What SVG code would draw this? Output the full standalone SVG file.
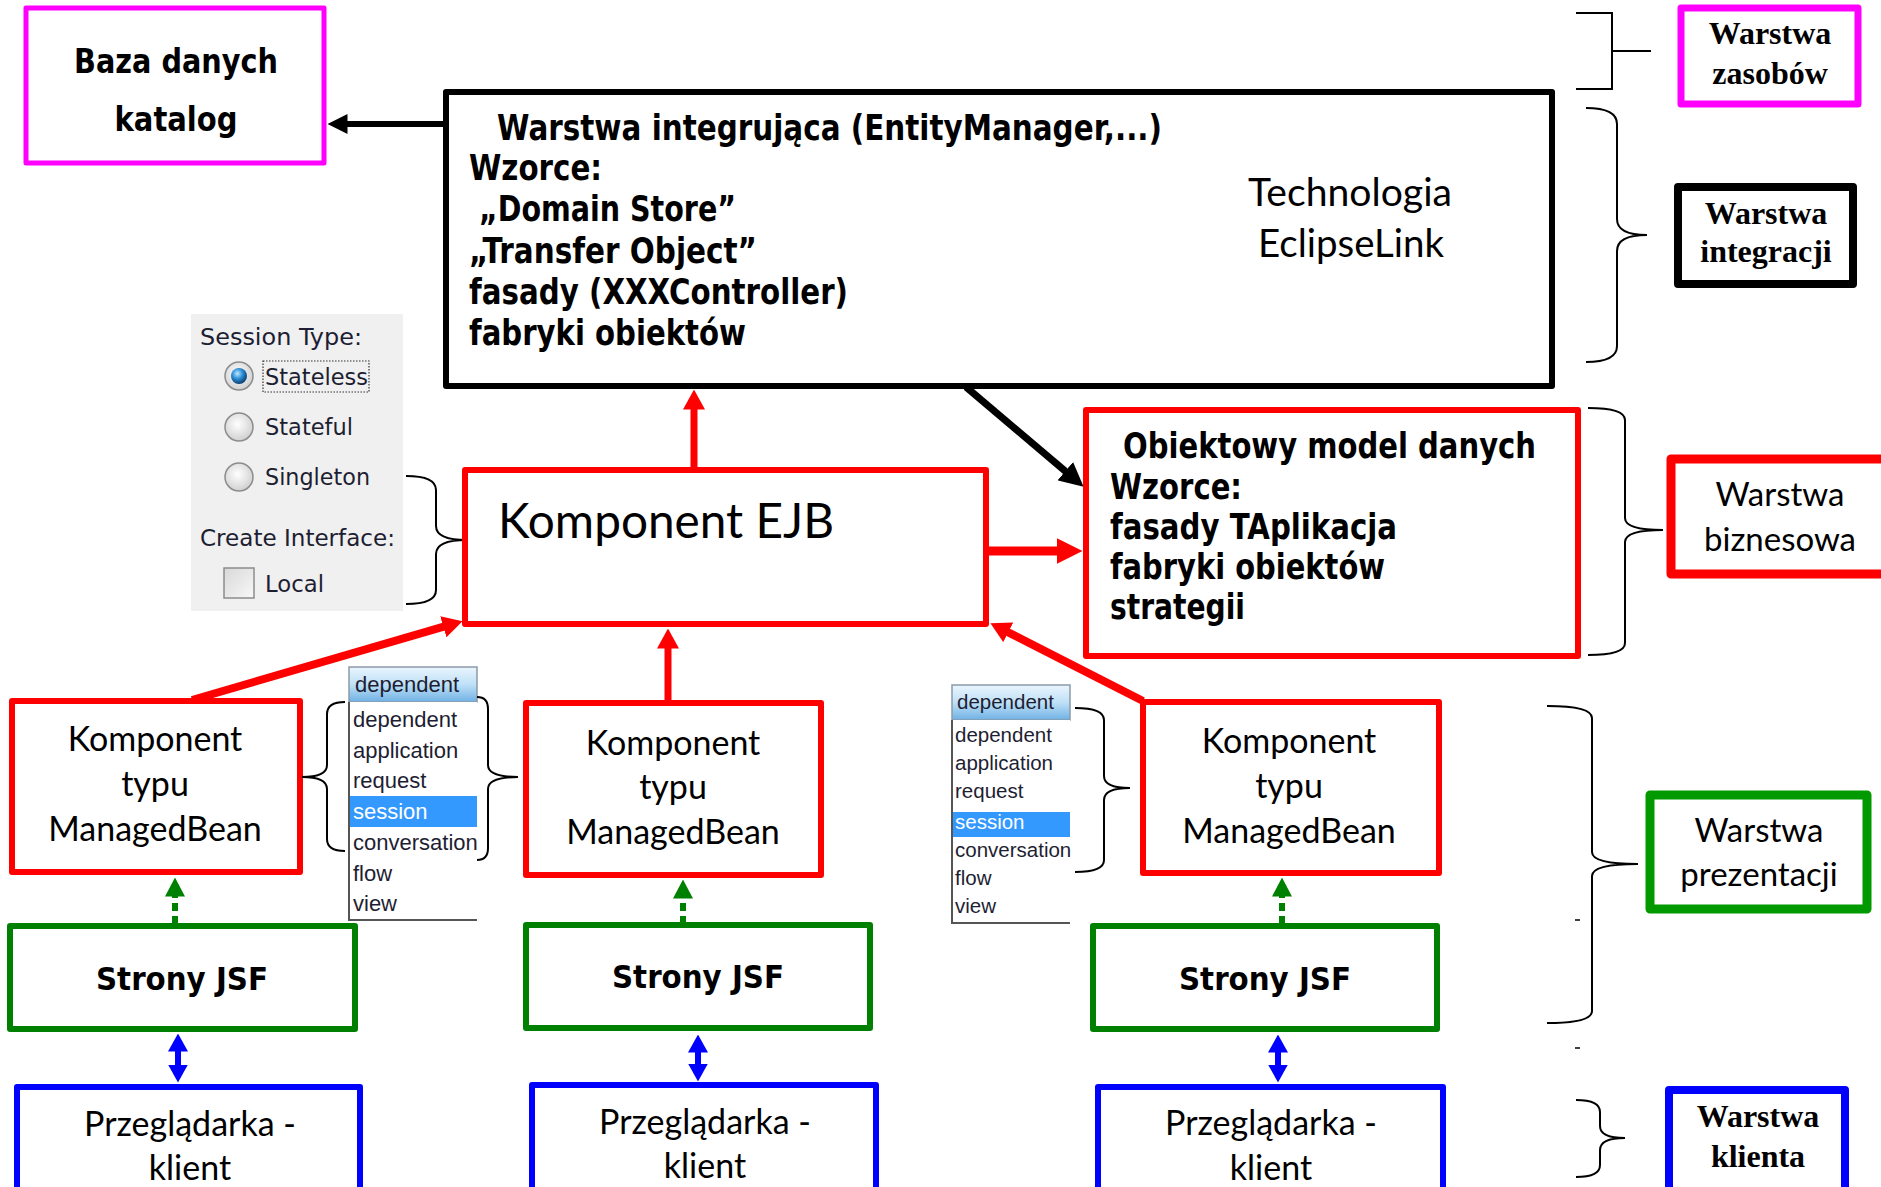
<svg xmlns="http://www.w3.org/2000/svg" width="1881" height="1187" viewBox="0 0 1881 1187">
<defs>
<style>
.box{fill:#fff;stroke-linejoin:round}
.bold{font-family:"DejaVu Sans",Verdana,sans-serif;font-weight:bold;fill:#000}
.cal{font-family:Lato,"Liberation Sans",sans-serif;fill:#000}
.serif{font-family:"Liberation Serif","Times New Roman",serif;font-weight:bold;fill:#000}
.ui{font-family:"DejaVu Sans",Tahoma,sans-serif;fill:#1e1e32}
.li{font-family:"Liberation Sans",Arial,sans-serif;font-size:22px;fill:#1e1e32}
.li2{font-family:"Liberation Sans",Arial,sans-serif;font-size:20.5px;fill:#1e1e32}
.brace{fill:none;stroke:#000;stroke-width:2}
.c{text-anchor:middle}
</style>
<marker id="ahBlack" viewBox="0 0 20 20" refX="0.5" refY="10" markerWidth="20" markerHeight="20" markerUnits="userSpaceOnUse" orient="auto"><path d="M0,0 L20,10 L0,20 z" fill="#000"/></marker>
<marker id="ahBlackL" viewBox="0 0 24 24" refX="0.5" refY="12" markerWidth="24" markerHeight="24" markerUnits="userSpaceOnUse" orient="auto"><path d="M0,0 L24,12 L0,24 z" fill="#000"/></marker>
<marker id="ahRed" viewBox="0 0 20 22" refX="0.5" refY="11" markerWidth="20" markerHeight="22" markerUnits="userSpaceOnUse" orient="auto"><path d="M0,0 L20,11 L0,22 z" fill="#f00"/></marker>
<marker id="ahRedL" viewBox="0 0 26 26" refX="0.5" refY="13" markerWidth="26" markerHeight="26" markerUnits="userSpaceOnUse" orient="auto"><path d="M0,0 L26,13 L0,26 z" fill="#f00"/></marker>
<marker id="ahGreen" viewBox="0 0 19 20" refX="0.5" refY="10" markerWidth="19" markerHeight="20" markerUnits="userSpaceOnUse" orient="auto"><path d="M0,0 L19,10 L0,20 z" fill="#008000"/></marker>
<marker id="ahBlue" viewBox="0 0 18 20" refX="0.5" refY="10" markerWidth="18" markerHeight="20" markerUnits="userSpaceOnUse" orient="auto-start-reverse"><path d="M0,0 L18,10 L0,20 z" fill="#00f"/></marker>
<linearGradient id="hdr" x1="0" y1="0" x2="0" y2="1"><stop offset="0" stop-color="#eaf5fd"/><stop offset="0.5" stop-color="#bfe0f7"/><stop offset="1" stop-color="#6fb1e4"/></linearGradient>
<radialGradient id="radio" cx="0.45" cy="0.4" r="0.6"><stop offset="0" stop-color="#ffffff"/><stop offset="1" stop-color="#d0d0d0"/></radialGradient>
<radialGradient id="radioSel" cx="0.4" cy="0.35" r="0.65"><stop offset="0" stop-color="#bfe8ff"/><stop offset="0.5" stop-color="#2d8fd6"/><stop offset="1" stop-color="#0b3f73"/></radialGradient>
<linearGradient id="chk" x1="0" y1="0" x2="1" y2="1"><stop offset="0" stop-color="#d8d8d8"/><stop offset="1" stop-color="#f8f8f8"/></linearGradient>
</defs>

<g id="connectors">
<line x1="446" y1="124" x2="347" y2="124" stroke="#000" stroke-width="6" marker-end="url(#ahBlack)"/>
<line x1="694" y1="467" x2="694" y2="409" stroke="#f00" stroke-width="7" marker-end="url(#ahRed)"/>
<line x1="989" y1="551" x2="1057" y2="551" stroke="#f00" stroke-width="9" marker-end="url(#ahRedL)"/>
<line x1="966" y1="387" x2="1065.7" y2="471.5" stroke="#000" stroke-width="7" marker-end="url(#ahBlackL)"/>
<line x1="192" y1="700" x2="443.8" y2="626.6" stroke="#f00" stroke-width="8" marker-end="url(#ahRed)"/>
<line x1="668" y1="702" x2="668" y2="648" stroke="#f00" stroke-width="7" marker-end="url(#ahRed)"/>
<line x1="1143" y1="701" x2="1007.8" y2="632.1" stroke="#f00" stroke-width="8" marker-end="url(#ahRed)"/>
<line x1="175" y1="924" x2="175" y2="896" stroke="#008000" stroke-width="6" stroke-dasharray="8 5" marker-end="url(#ahGreen)"/>
<line x1="683" y1="924" x2="683" y2="898" stroke="#008000" stroke-width="6" stroke-dasharray="8 5" marker-end="url(#ahGreen)"/>
<line x1="1282" y1="924" x2="1282" y2="896" stroke="#008000" stroke-width="6" stroke-dasharray="8 5" marker-end="url(#ahGreen)"/>
<line x1="178" y1="1051" x2="178" y2="1065" stroke="#00f" stroke-width="6" marker-start="url(#ahBlue)" marker-end="url(#ahBlue)"/>
<line x1="698" y1="1052" x2="698" y2="1064" stroke="#00f" stroke-width="6" marker-start="url(#ahBlue)" marker-end="url(#ahBlue)"/>
<line x1="1278" y1="1052" x2="1278" y2="1065" stroke="#00f" stroke-width="6" marker-start="url(#ahBlue)" marker-end="url(#ahBlue)"/>
</g>

<g id="baza">
<rect class="box" x="26" y="8" width="298" height="155" stroke="#f0f" stroke-width="5"/>
<text class="bold c" x="176" y="73" font-size="34" textLength="204" lengthAdjust="spacingAndGlyphs">Baza danych</text>
<text class="bold c" x="176" y="131" font-size="34" textLength="123" lengthAdjust="spacingAndGlyphs">katalog</text>
</g>

<g id="integracja">
<rect class="box" x="446" y="92" width="1106" height="294" stroke="#000" stroke-width="6"/>
<text class="bold" x="497" y="140" font-size="35" textLength="665" lengthAdjust="spacingAndGlyphs">Warstwa integrująca (EntityManager,...)</text>
<text class="bold" x="469" y="180" font-size="35" textLength="133" lengthAdjust="spacingAndGlyphs">Wzorce:</text>
<text class="bold" x="479" y="221" font-size="35" textLength="257" lengthAdjust="spacingAndGlyphs">„Domain Store”</text>
<text class="bold" x="469" y="263" font-size="35" textLength="288" lengthAdjust="spacingAndGlyphs">„Transfer Object”</text>
<text class="bold" x="469" y="304" font-size="35" textLength="379" lengthAdjust="spacingAndGlyphs">fasady (XXXController)</text>
<text class="bold" x="469" y="345" font-size="35" textLength="277" lengthAdjust="spacingAndGlyphs">fabryki obiektów</text>
<text class="cal c" x="1350" y="206" font-size="38" textLength="204" lengthAdjust="spacingAndGlyphs">Technologia</text>
<text class="cal c" x="1351" y="257" font-size="38" textLength="186" lengthAdjust="spacingAndGlyphs">EclipseLink</text>
</g>

<g id="session-panel">
<rect x="191" y="314" width="212" height="297" fill="#f0f0f0"/>
<text class="ui" x="200" y="345" font-size="23" textLength="162" lengthAdjust="spacingAndGlyphs">Session Type:</text>
<circle cx="239" cy="376" r="14" fill="url(#radio)" stroke="#8c8c8c" stroke-width="1.5"/>
<circle cx="239" cy="376" r="8" fill="url(#radioSel)"/>
<rect x="263" y="361" width="106" height="31" fill="none" stroke="#333" stroke-width="1.2" stroke-dasharray="1.5 1.5"/>
<text class="ui" x="265" y="385" font-size="23" textLength="103" lengthAdjust="spacingAndGlyphs">Stateless</text>
<circle cx="239" cy="427" r="14" fill="url(#radio)" stroke="#8c8c8c" stroke-width="1.5"/>
<text class="ui" x="265" y="435" font-size="23" textLength="88" lengthAdjust="spacingAndGlyphs">Stateful</text>
<circle cx="239" cy="477" r="14" fill="url(#radio)" stroke="#8c8c8c" stroke-width="1.5"/>
<text class="ui" x="265" y="485" font-size="23" textLength="105" lengthAdjust="spacingAndGlyphs">Singleton</text>
<text class="ui" x="200" y="546" font-size="23" textLength="195" lengthAdjust="spacingAndGlyphs">Create Interface:</text>
<rect x="224" y="568" width="30" height="30" fill="url(#chk)" stroke="#8c8c8c" stroke-width="1.5"/>
<text class="ui" x="265" y="592" font-size="23" textLength="59" lengthAdjust="spacingAndGlyphs">Local</text>
<path class="brace" d="M406,476 Q436,476 436,490 V526 Q436,540 467,540 Q436,540 436,554 V590 Q436,604 406,604"/>
</g>

<g id="ejb">
<rect class="box" x="465" y="470" width="521" height="154" stroke="#f00" stroke-width="6"/>
<text class="cal" x="498" y="538" font-size="48" textLength="336" lengthAdjust="spacingAndGlyphs">Komponent EJB</text>
</g>

<g id="obiektowy">
<rect class="box" x="1086" y="410" width="492" height="246" stroke="#f00" stroke-width="6"/>
<text class="bold" x="1123" y="458" font-size="35" textLength="413" lengthAdjust="spacingAndGlyphs">Obiektowy model danych</text>
<text class="bold" x="1110" y="499" font-size="35" textLength="132" lengthAdjust="spacingAndGlyphs">Wzorce:</text>
<text class="bold" x="1110" y="539" font-size="35" textLength="287" lengthAdjust="spacingAndGlyphs">fasady TAplikacja</text>
<text class="bold" x="1110" y="579" font-size="35" textLength="275" lengthAdjust="spacingAndGlyphs">fabryki obiektów</text>
<text class="bold" x="1110" y="619" font-size="35" textLength="135" lengthAdjust="spacingAndGlyphs">strategii</text>
</g>

<g id="managedbean-1">
<rect class="box" x="12" y="701" width="288" height="171" stroke="#f00" stroke-width="6"/>
<text class="cal c" x="155" y="751" font-size="34">Komponent</text>
<text class="cal c" x="155" y="796" font-size="34">typu</text>
<text class="cal c" x="155" y="841" font-size="34">ManagedBean</text>
</g>
<g id="managedbean-2">
<rect class="box" x="526" y="703" width="295" height="172" stroke="#f00" stroke-width="6"/>
<text class="cal c" x="673" y="755" font-size="34">Komponent</text>
<text class="cal c" x="673" y="799" font-size="34">typu</text>
<text class="cal c" x="673" y="844" font-size="34">ManagedBean</text>
</g>
<g id="managedbean-3">
<rect class="box" x="1143" y="702" width="296" height="171" stroke="#f00" stroke-width="6"/>
<text class="cal c" x="1289" y="753" font-size="34">Komponent</text>
<text class="cal c" x="1289" y="798" font-size="34">typu</text>
<text class="cal c" x="1289" y="843" font-size="34">ManagedBean</text>
</g>

<g id="scope-list-1">
<rect x="349" y="667" width="128" height="35" fill="url(#hdr)" stroke="#8a9aa8" stroke-width="1.5"/>
<text class="li" x="355" y="692">dependent</text>
<rect x="349" y="702" width="128" height="218" fill="#fff"/>
<rect x="349" y="796" width="128" height="31" fill="#3399ff"/>
<path d="M349,702 V920 H477" fill="none" stroke="#555" stroke-width="2"/>
<text class="li" x="353" y="727">dependent</text>
<text class="li" x="353" y="758">application</text>
<text class="li" x="353" y="788">request</text>
<text class="li" x="353" y="819" style="fill:#fff">session</text>
<text class="li" x="353" y="850">conversation</text>
<text class="li" x="353" y="881">flow</text>
<text class="li" x="353" y="911">view</text>
<path class="brace" d="M345,702 Q327,702 327,714 V765 Q327,777 302,777 Q327,777 327,789 V839 Q327,851 345,851"/>
<path class="brace" d="M477,697 Q488,697 488,709 V765 Q488,777 518,777 Q488,777 488,789 V848 Q488,860 477,860"/>
</g>

<g id="scope-list-2">
<rect x="952" y="685" width="118" height="35" fill="url(#hdr)" stroke="#8a9aa8" stroke-width="1.5"/>
<text class="li2" x="957" y="709">dependent</text>
<rect x="952" y="720" width="118" height="203" fill="#fff"/>
<rect x="952" y="812" width="118" height="25" fill="#3399ff"/>
<path d="M952,720 V923 H1070" fill="none" stroke="#555" stroke-width="2"/>
<text class="li2" x="955" y="742">dependent</text>
<text class="li2" x="955" y="770">application</text>
<text class="li2" x="955" y="798">request</text>
<text class="li2" x="955" y="829" style="fill:#fff">session</text>
<text class="li2" x="955" y="857">conversation</text>
<text class="li2" x="955" y="885">flow</text>
<text class="li2" x="955" y="913">view</text>
<path class="brace" d="M1075,708 Q1104,708 1104,720 V776 Q1104,788 1130,788 Q1104,788 1104,800 V860 Q1104,872 1075,872"/>
</g>

<g id="jsf-1">
<rect class="box" x="10" y="926" width="345" height="103" stroke="#008000" stroke-width="6"/>
<text class="bold c" x="182" y="990" font-size="32" textLength="172" lengthAdjust="spacingAndGlyphs">Strony JSF</text>
</g>
<g id="jsf-2">
<rect class="box" x="526" y="925" width="344" height="103" stroke="#008000" stroke-width="6"/>
<text class="bold c" x="698" y="988" font-size="32" textLength="172" lengthAdjust="spacingAndGlyphs">Strony JSF</text>
</g>
<g id="jsf-3">
<rect class="box" x="1093" y="926" width="344" height="103" stroke="#008000" stroke-width="6"/>
<text class="bold c" x="1265" y="990" font-size="32" textLength="172" lengthAdjust="spacingAndGlyphs">Strony JSF</text>
</g>

<g id="przegladarka-1">
<rect class="box" x="17" y="1087" width="343" height="115" stroke="#00f" stroke-width="6"/>
<text class="cal c" x="190" y="1136" font-size="34">Przeglądarka -</text>
<text class="cal c" x="190" y="1180" font-size="34">klient</text>
</g>
<g id="przegladarka-2">
<rect class="box" x="532" y="1085" width="344" height="117" stroke="#00f" stroke-width="6"/>
<text class="cal c" x="705" y="1134" font-size="34">Przeglądarka -</text>
<text class="cal c" x="705" y="1178" font-size="34">klient</text>
</g>
<g id="przegladarka-3">
<rect class="box" x="1098" y="1087" width="345" height="115" stroke="#00f" stroke-width="6"/>
<text class="cal c" x="1271" y="1135" font-size="34">Przeglądarka -</text>
<text class="cal c" x="1271" y="1180" font-size="34">klient</text>
</g>

<g id="layer-braces">
<path class="brace" d="M1576,13 H1612 V89 H1576 M1612,51 H1651"/>
<path class="brace" d="M1586,108 Q1617,108 1617,124 V219 Q1617,235 1647,235 Q1617,235 1617,251 V346 Q1617,362 1586,362"/>
<path class="brace" d="M1588,408 Q1625,408 1625,420 V518 Q1625,530 1663,530 Q1625,530 1625,542 V643 Q1625,655 1588,655"/>
<path class="brace" d="M1547,706 Q1592,706 1592,718 V852 Q1592,864 1638,864 Q1592,864 1592,876 V1011 Q1592,1023 1547,1023"/>
<path class="brace" d="M1576,1100 Q1600,1100 1600,1112 V1126 Q1600,1138 1625,1138 Q1600,1138 1600,1150 V1165 Q1600,1177 1576,1177"/>
<path d="M1575,920 H1580 M1575,1048 H1580" stroke="#000" stroke-width="1.5"/>
</g>

<g id="label-zasobow">
<rect class="box" x="1681" y="8" width="177" height="96" stroke="#f0f" stroke-width="7"/>
<text class="serif c" x="1770" y="44" font-size="32">Warstwa</text>
<text class="serif c" x="1770" y="84" font-size="32">zasobów</text>
</g>
<g id="label-integracji">
<rect class="box" x="1678" y="187" width="175" height="97" stroke="#000" stroke-width="8"/>
<text class="serif c" x="1766" y="224" font-size="32">Warstwa</text>
<text class="serif c" x="1766" y="262" font-size="32">integracji</text>
</g>
<g id="label-biznesowa">
<rect class="box" x="1671" y="459" width="220" height="115" stroke="#f00" stroke-width="9"/>
<text class="cal c" x="1780" y="506" font-size="33">Warstwa</text>
<text class="cal c" x="1780" y="551" font-size="33">biznesowa</text>
</g>
<g id="label-prezentacji">
<rect class="box" x="1650" y="795" width="217" height="114" stroke="#009900" stroke-width="9"/>
<text class="cal c" x="1759" y="842" font-size="33">Warstwa</text>
<text class="cal c" x="1759" y="886" font-size="33">prezentacji</text>
</g>
<g id="label-klienta">
<rect class="box" x="1669" y="1090" width="176" height="110" stroke="#00f" stroke-width="8"/>
<text class="serif c" x="1758" y="1127" font-size="32">Warstwa</text>
<text class="serif c" x="1758" y="1167" font-size="32">klienta</text>
</g>
</svg>
